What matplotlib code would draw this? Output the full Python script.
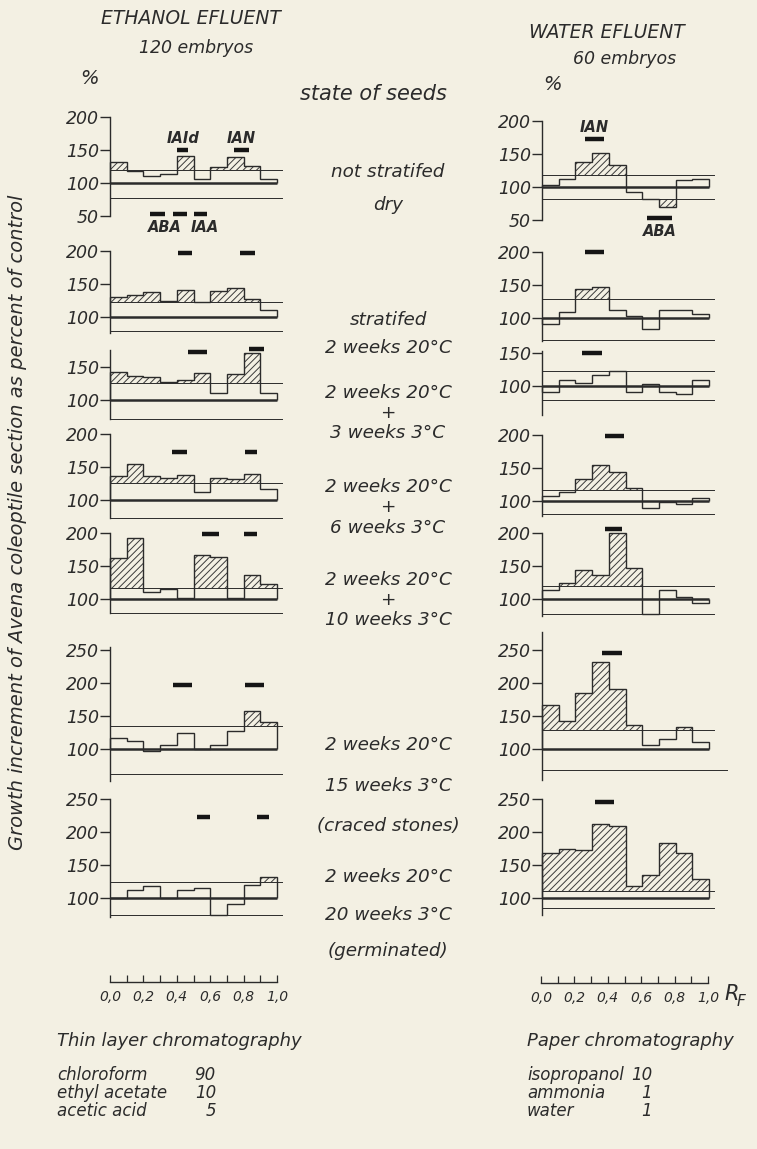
import numpy as np
import matplotlib
matplotlib.use("Agg")
import matplotlib.pyplot as plt

plt.rcParams['font.family'] = ['DejaVu Sans']
plt.rcParams['font.style'] = 'italic'
plt.rcParams['hatch.linewidth'] = 0.7

W, H = 757, 1149
BG = '#f3f0e3'
INK = '#2b2b2b'

# ---------------- data ----------------
rf_edges = np.linspace(0.0, 1.0, 11)

# Ethanol effluent (thin layer chromatography), growth increment in % of control
eth_dry   = [132, 119, 111, 114, 141, 106, 125, 140, 126, 106]
eth_strat = [130, 133, 138, 124, 140, 122, 139, 144, 127, 110]
eth_3w    = [142, 137, 135, 127, 131, 141, 110, 139, 171, 110]
eth_6w    = [137, 155, 136, 133, 138, 112, 133, 132, 140, 117]
eth_10w   = [162, 193, 110, 115, 101, 166, 164, 102, 137, 123]
eth_15w   = [117, 112,  97, 106, 124, 100, 107, 128, 158, 142]
eth_20w   = [101, 113, 119, 100, 113, 115,  75,  91, 120, 133]
eth_upper = [120, 122, 126, 126, 116, 135, 124]
eth_lower = [77, 78, 71, 72, 79, 63, 75]

# Water effluent (paper chromatography)
wat_dry   = [102, 112, 137, 151, 133,  92,  81,  70, 110, 112]
wat_strat = [ 91, 110, 144, 148, 112, 103,  84, 112, 113, 107]
wat_3w    = [ 90, 108, 104, 116, 123,  90, 103,  91,  87, 109]
wat_6w    = [108, 113, 133, 154, 144, 120,  89,  99,  95, 105]
wat_10w   = [114, 125, 145, 137, 200, 147,  78, 114, 103,  94]
wat_15w   = [166, 143, 185, 232, 191, 136, 106, 115, 134, 110]
wat_20w   = [169, 175, 173, 212, 210, 119, 136, 184, 168, 130]
wat_upper = [118, 130, 122, 116, 120, 129, 111]
wat_lower = [81, 67, 78, 80, 77, 68, 86]

# reference substance spots: (RF start, RF end, level)
eth_spots = [
    [(0.40, 0.47, 151), (0.74, 0.83, 151), (0.24, 0.33, 53), (0.38, 0.46, 53), (0.50, 0.58, 53)],
    [(0.41, 0.49, 197), (0.78, 0.87, 197)],
    [(0.47, 0.58, 172), (0.83, 0.92, 177)],
    [(0.37, 0.46, 173), (0.81, 0.88, 173)],
    [(0.55, 0.65, 198), (0.80, 0.88, 198)],
    [(0.38, 0.49, 198), (0.81, 0.92, 198)],
    [(0.52, 0.60, 223), (0.88, 0.95, 223)],
]
wat_spots = [
    [(0.26, 0.37, 173), (0.63, 0.78, 53)],
    [(0.26, 0.37, 201)],
    [(0.24, 0.36, 150)],
    [(0.38, 0.49, 199)],
    [(0.38, 0.48, 207)],
    [(0.36, 0.48, 246)],
    [(0.32, 0.43, 246)],
]

state_labels = [
    ("not stratifed", 172), ("dry", 205),
    ("stratifed", 320), ("2 weeks 20°C", 348),
    ("2 weeks 20°C", 393), ("+", 413), ("3 weeks 3°C", 433),
    ("2 weeks 20°C", 487), ("+", 507), ("6 weeks 3°C", 528),
    ("2 weeks 20°C", 580), ("+", 600), ("10 weeks 3°C", 620),
    ("2 weeks 20°C", 745), ("15 weeks 3°C", 786), ("(craced stones)", 826),
    ("2 weeks 20°C", 877), ("20 weeks 3°C", 915), ("(germinated)", 951),
]

rf_ticks = np.round(np.arange(0, 1.01, 0.1), 1)
rf_labels = ["0,0", "", "0,2", "", "0,4", "", "0,6", "", "0,8", "", "1,0"]

# ---------------- layout (pixels) ----------------
K = 0.66          # px per % unit
XW = 167          # px per RF 1.0
eth_geom = [  # y pixel of 100 %, spine lo, spine hi, ticks
    (183.3, 50, 200, [50, 100, 150, 200]),
    (316.7, 76, 200, [100, 150, 200]),
    (400.0, 71, 176, [100, 150]),
    (500.0, 72, 200, [100, 150, 200]),
    (599.0, 79, 200, [100, 150, 200]),
    (749.3, 52, 255, [100, 150, 200, 250]),
    (898.3, 72, 250, [100, 150, 200, 250]),
]
wat_geom = [
    (186.7, 50, 200, [50, 100, 150, 200]),
    (318.3, 65, 200, [100, 150, 200]),
    (385.7, 55, 152, [100, 150]),
    (501.0, 78, 200, [100, 150, 200]),
    (599.3, 75, 200, [100, 150, 200]),
    (749.0, 53, 277, [100, 150, 200, 250]),
    (898.3, 75, 250, [100, 150, 200, 250]),
]

fig = plt.figure(figsize=(W / 100, H / 100), dpi=100)
fig.patch.set_facecolor(BG)


def make_ax(x0, y100, ylo, yhi, xlo=-0.35, xhi=1.15):
    left = x0 + xlo * XW
    width = (xhi - xlo) * XW
    top = y100 - (yhi - 100) * K
    height = (yhi - ylo) * K
    ax = fig.add_axes([left / W, 1 - (top + height) / H, width / W, height / H])
    ax.set_xlim(xlo, xhi)
    ax.set_ylim(ylo, yhi)
    ax.patch.set_alpha(0)
    return ax


def draw_panel(x0, geom, vals, upper, lower, spots, lower_ext=1.03):
    y100, slo, shi, ticks = geom
    ax = make_ax(x0, y100, slo - 15, max(shi, max(vals), max(s[2] for s in spots)) + 15)
    for s in ['top', 'right', 'bottom']:
        ax.spines[s].set_visible(False)
    ax.spines['left'].set_position(('data', 0))
    ax.spines['left'].set_bounds(slo, shi)
    ax.spines['left'].set_color(INK)
    ax.spines['left'].set_linewidth(1.0)
    ax.set_xticks([])
    ax.set_yticks(ticks)
    ax.set_yticklabels([str(t) for t in ticks], fontsize=12.5, color=INK)
    ax.tick_params(axis='y', direction='out', length=7, width=1.0, pad=1, colors=INK)
    v = np.asarray(vals, dtype=float)
    # hatched parts above upper / below lower limit
    ax.stairs(np.maximum(v, upper), rf_edges, baseline=upper, fill=True,
              hatch='/////', facecolor='none', edgecolor='#3a3a3a', linewidth=0)
    ax.stairs(np.minimum(v, lower), rf_edges, baseline=lower, fill=True,
              hatch='/////', facecolor='none', edgecolor='#3a3a3a', linewidth=0)
    ax.plot([0, 1.0], [100, 100], color=INK, lw=1.8, solid_capstyle='butt')
    ax.plot([0, 1.03], [upper, upper], color=INK, lw=0.7)
    ax.plot([0, lower_ext], [lower, lower], color=INK, lw=0.7)
    ax.stairs(v, rf_edges, baseline=100, color=INK, lw=1.0)
    for a, b, lvl in spots:
        ax.plot([a, b], [lvl, lvl], color='#151515', lw=3.2, solid_capstyle='butt')
    return ax


eth_vals = [eth_dry, eth_strat, eth_3w, eth_6w, eth_10w, eth_15w, eth_20w]
wat_vals = [wat_dry, wat_strat, wat_3w, wat_6w, wat_10w, wat_15w, wat_20w]

eth_axes = []
for i in range(7):
    eth_axes.append(draw_panel(110, eth_geom[i], eth_vals[i], eth_upper[i], eth_lower[i], eth_spots[i]))
wat_axes = []
for i in range(7):
    ext = 1.11 if i == 5 else 1.03
    wat_axes.append(draw_panel(542, wat_geom[i], wat_vals[i], wat_upper[i], wat_lower[i], wat_spots[i], ext))

# spot labels
a0 = eth_axes[0]
a0.text(0.435, 157, "IAId", ha='center', va='bottom', fontsize=10.5, color=INK, weight='bold')
a0.text(0.785, 157, "IAN", ha='center', va='bottom', fontsize=10.5, color=INK, weight='bold')
a0.text(0.33, 45, "ABA", ha='center', va='top', fontsize=10.5, color=INK, weight='bold')
a0.text(0.57, 45, "IAA", ha='center', va='top', fontsize=10.5, color=INK, weight='bold')
w0 = wat_axes[0]
w0.text(0.315, 179, "IAN", ha='center', va='bottom', fontsize=10.5, color=INK, weight='bold')
w0.text(0.705, 43, "ABA", ha='center', va='top', fontsize=10.5, color=INK, weight='bold')

# RF axes
for x0, y in [(110, 981), (541, 982)]:
    ax = fig.add_axes([x0 / W, 1 - (y + 1) / H, XW / W, 2 / H])
    ax.set_xlim(0, 1)
    ax.set_ylim(0, 1)
    ax.patch.set_alpha(0)
    for s in ['top', 'right', 'left']:
        ax.spines[s].set_visible(False)
    ax.spines['bottom'].set_color(INK)
    ax.spines['bottom'].set_linewidth(1.0)
    ax.set_yticks([])
    ax.set_xticks(rf_ticks)
    ax.set_xticklabels(rf_labels, fontsize=10, color=INK)
    ax.tick_params(axis='x', direction='in', length=5, width=0.9, pad=6, colors=INK)

# texts
def ftext(x, y, s, size, ha='center', **kw):
    fig.text(x / W, 1 - y / H, s, ha=ha, va='center', fontsize=size, color=INK, **kw)

ftext(191, 19, "ETHANOL EFLUENT", 13.5)
ftext(196, 48, "120 embryos", 12.5)
ftext(89, 79, "%", 14)
ftext(373, 94, "state of seeds", 15)
ftext(607, 33, "WATER EFLUENT", 13.5)
ftext(625, 59, "60 embryos", 12.5)
ftext(552, 84, "%", 14)

for s, y in state_labels:
    ftext(388, y, s, 13.2)

fig.text(18 / W, 1 - 522 / H, "Growth increment of Avena coleoptile section as percent of control",
         rotation=90, ha='center', va='center', fontsize=14, color=INK)

ftext(724, 994, "R", 15, ha='left')
ftext(737, 1001, "F", 11, ha='left')

ftext(57, 1041, "Thin layer chromatography", 13, ha='left')
for (name, num), y in zip([("chloroform", "90"), ("ethyl acetate", "10"), ("acetic acid", "5")],
                          [1075, 1093, 1111]):
    ftext(57, y, name, 12, ha='left')
    ftext(216, y, num, 12, ha='right')
ftext(527, 1041, "Paper chromatography", 13, ha='left')
for (name, num), y in zip([("isopropanol", "10"), ("ammonia", "1"), ("water", "1")],
                          [1075, 1093, 1111]):
    ftext(527, y, name, 12, ha='left')
    ftext(652, y, num, 12, ha='right')

fig.savefig("out.png", dpi=100, facecolor=BG)
